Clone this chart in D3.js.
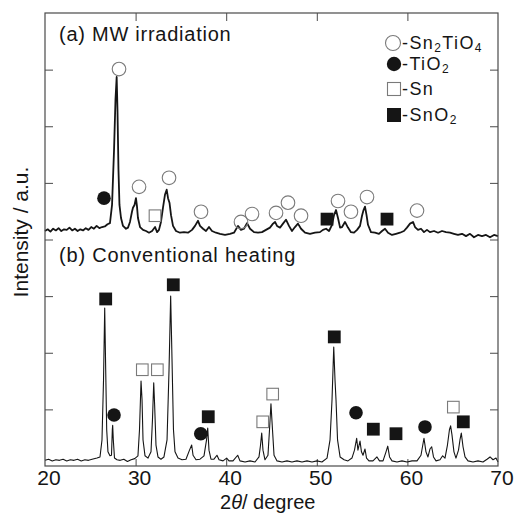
<!DOCTYPE html>
<html>
<head>
<meta charset="utf-8">
<script src="https://cdn.jsdelivr.net/npm/d3@7"></script>
<style>
  html, body { margin: 0; padding: 0; background: #fff; }
  svg { display: block; font-family: "Liberation Sans", Arial, Helvetica, sans-serif; }
</style>
</head>
<body>
<svg id="chart" width="514" height="514"></svg>
<script>
// XRD patterns: [2θ (deg), intensity (a.u., stacked)]
const patternMW = [
  [20.0,4.15],[20.3,4.18],[20.6,4.14],[20.9,4.19],[21.2,4.16],[21.5,4.20],[21.8,4.15],[22.1,4.18],
  [22.4,4.17],[22.7,4.21],[23.0,4.16],[23.3,4.19],[23.6,4.15],[23.9,4.18],[24.2,4.16],[24.5,4.20],
  [24.8,4.17],[25.1,4.22],[25.4,4.19],[25.7,4.24],[26.0,4.20],[26.3,4.22],[26.6,4.23],[26.9,4.27],
  [27.17,4.29],[27.40,4.61],[27.62,5.58],[27.78,6.47],[27.91,6.87],[28.00,6.29],[28.11,5.23],
  [28.22,4.61],[28.39,4.38],[28.61,4.24],[28.94,4.19],[29.16,4.21],[29.38,4.31],[29.60,4.49],
  [29.71,4.56],[29.88,4.61],[30.04,4.73],[30.15,4.59],[30.26,4.38],[30.49,4.22],[30.82,4.17],
  [31.15,4.15],[31.48,4.12],[31.82,4.15],[32.15,4.22],[32.37,4.13],[32.58,4.17],[32.80,4.31],
  [33.02,4.56],[33.24,4.79],[33.43,4.88],[33.58,4.73],[33.74,4.65],[33.91,4.43],[34.13,4.24],
  [34.46,4.15],[34.90,4.12],[35.34,4.13],[35.78,4.12],[36.23,4.17],[36.56,4.24],[36.89,4.33],
  [37.11,4.24],[37.44,4.19],[37.77,4.15],[38.10,4.22],[38.43,4.15],[38.87,4.12],[39.32,4.10],
  [39.87,4.08],[40.42,4.10],[40.86,4.12],[41.30,4.24],[41.63,4.17],[41.96,4.19],[42.30,4.29],
  [42.63,4.19],[43.07,4.13],[43.51,4.12],[43.95,4.13],[44.39,4.17],[44.83,4.21],[45.17,4.28],
  [45.39,4.31],[45.61,4.24],[45.94,4.21],[46.27,4.28],[46.60,4.35],[46.93,4.24],[47.26,4.15],
  [47.59,4.22],[47.92,4.28],[48.26,4.19],[48.70,4.12],[49.25,4.10],[49.80,4.12],[50.35,4.13],
  [50.68,4.17],[51.02,4.19],[51.35,4.15],[51.68,4.26],[51.90,4.43],[52.12,4.52],[52.34,4.38],
  [52.57,4.21],[52.79,4.22],[53.11,4.31],[53.44,4.21],[53.77,4.13],[54.11,4.12],[54.44,4.17],
  [54.77,4.24],[54.99,4.42],[55.16,4.52],[55.32,4.58],[55.49,4.43],[55.65,4.26],[55.98,4.13],
  [56.42,4.12],[56.86,4.10],[57.20,4.15],[57.53,4.19],[57.86,4.12],[58.30,4.08],[58.74,4.10],
  [59.18,4.12],[59.62,4.15],[59.95,4.21],[60.29,4.28],[60.62,4.31],[60.84,4.22],[61.17,4.17],
  [61.50,4.19],[61.83,4.13],[62.16,4.17],[62.49,4.13],[62.94,4.15],[63.38,4.12],[63.82,4.15],
  [64.26,4.13],[64.70,4.12],[65.14,4.10],[65.58,4.08],[66.03,4.10],[66.47,4.06],[66.91,4.10],
  [67.35,4.04],[67.79,4.08],[68.23,4.06],[68.68,4.08],[69.12,4.04],[69.56,4.08],[70.0,4.06]
];

const patternConv = [
  [20.0,0.10],[20.4,0.12],[20.8,0.09],[21.2,0.11],[21.6,0.10],[22.0,0.12],[22.4,0.09],[22.8,0.11],
  [23.2,0.10],[23.6,0.12],[24.0,0.09],[24.4,0.11],[24.8,0.10],[25.2,0.12],[25.74,0.14],
  [26.07,0.16],[26.29,0.46],[26.46,1.52],[26.59,2.79],[26.70,1.70],[26.81,0.64],[26.95,0.25],
  [27.17,0.18],[27.34,0.19],[27.43,0.64],[27.47,0.72],[27.54,0.46],[27.67,0.14],[27.95,0.11],
  [28.3,0.10],[28.7,0.12],[29.1,0.08],[29.5,0.11],[29.9,0.13],[30.26,0.18],[30.43,0.64],
  [30.60,1.50],[30.71,1.17],[30.82,0.46],[31.04,0.18],[31.37,0.14],[31.70,0.25],[31.86,0.81],
  [32.00,1.47],[32.10,1.08],[32.25,0.37],[32.47,0.16],[32.80,0.12],[33.13,0.16],[33.47,0.46],
  [33.69,1.70],[33.87,3.00],[34.02,1.87],[34.18,0.64],[34.35,0.25],[34.68,0.14],[35.12,0.11],
  [35.56,0.12],[35.95,0.28],[36.19,0.37],[36.34,0.19],[36.67,0.11],[37.11,0.12],[37.55,0.18],
  [37.83,0.46],[37.96,0.67],[38.10,0.28],[38.32,0.12],[38.65,0.12],[38.98,0.19],[39.21,0.11],
  [39.65,0.09],[40.05,0.14],[40.31,0.09],[40.75,0.09],[41.27,0.19],[41.52,0.09],[42.08,0.07],
  [42.63,0.09],[43.18,0.07],[43.62,0.16],[43.79,0.37],[43.92,0.58],[44.06,0.28],[44.28,0.11],
  [44.61,0.19],[44.78,0.64],[44.94,1.10],[45.11,0.64],[45.28,0.19],[45.61,0.09],[46.16,0.07],
  [46.71,0.09],[47.26,0.07],[47.81,0.09],[48.37,0.07],[48.92,0.09],[49.47,0.07],[50.02,0.09],
  [50.57,0.07],[51.13,0.14],[51.46,0.46],[51.68,1.17],[51.87,2.10],[52.01,1.52],[52.12,1.17],
  [52.29,0.46],[52.57,0.16],[53.01,0.11],[53.44,0.09],[53.88,0.14],[54.16,0.28],[54.40,0.49],
  [54.54,0.28],[54.77,0.44],[54.93,0.25],[55.10,0.19],[55.32,0.30],[55.49,0.14],[55.76,0.09],
  [56.20,0.09],[56.64,0.16],[56.92,0.09],[57.31,0.09],[57.64,0.25],[57.83,0.35],[58.03,0.16],
  [58.30,0.09],[58.85,0.07],[59.40,0.09],[59.96,0.07],[60.51,0.09],[61.06,0.09],[61.50,0.19],
  [61.83,0.49],[62.05,0.25],[62.27,0.16],[62.49,0.30],[62.68,0.34],[62.88,0.16],[63.16,0.09],
  [63.60,0.11],[63.89,0.18],[64.15,0.14],[64.42,0.37],[64.64,0.64],[64.77,0.71],[64.92,0.55],
  [65.14,0.25],[65.36,0.14],[65.64,0.28],[65.80,0.46],[65.95,0.58],[66.14,0.34],[66.36,0.16],
  [66.69,0.09],[67.24,0.07],[67.79,0.09],[68.34,0.07],[68.79,0.12],[69.12,0.16],[69.45,0.11],
  [69.78,0.14],[70.0,0.07]
];

// Phase markers above the reflections: [2θ, height]
const sn2tio4MW = [
  [28.17,7.01],[30.38,4.93],[33.69,5.09],[37.22,4.49],[41.63,4.31],[42.85,4.45],[45.50,4.47],
  [46.82,4.65],[48.26,4.42],[52.34,4.68],[53.77,4.49],[55.54,4.75],[61.06,4.51]
];
const tio2MW = [[26.51,4.73]];
const snMW = [[32.14,4.42]];
const sno2MW = [[51.13,4.36],[57.75,4.36]];

const sno2Conv = [[26.70,2.95],[34.16,3.20],[38.02,0.87],[51.93,2.28],[56.24,0.65],[58.74,0.57],[66.17,0.78]];
const tio2Conv = [[27.62,0.90],[37.19,0.57],[54.33,0.94],[61.94,0.69]];
const snConv = [[30.74,1.70],[32.40,1.70],[44.03,0.78],[45.13,1.27],[65.07,1.04]];

const xTickLabels = [20, 30, 40, 50, 60, 70];
const xInnerTicks = [30, 40, 50, 60];
const yInnerTicks = [1, 2, 3, 4, 5, 6, 7];

const legendItems = [
  { shape: "openCircle",  parts: [["-Sn", false], ["2", true], ["TiO", false], ["4", true]] },
  { shape: "filledCircle", parts: [["-TiO", false], ["2", true]] },
  { shape: "openSquare",  parts: [["-Sn", false]] },
  { shape: "filledSquare", parts: [["-SnO", false], ["2", true]] }
];

const svg = d3.select("#chart");
const L = 45, R = 498, T = 13, B = 466;
const x = d3.scaleLinear().domain([20, 70]).range([L, R]);
const y = d3.scaleLinear().domain([0, 8]).range([B, T]);

const frameColor = "#4a4a4a";
const ink = "#151515";
const openStroke = "#7a7a7a";

// Inward ticks on all four sides
function styleAxis(g) {
  g.select(".domain").remove();
  g.selectAll(".tick line").attr("stroke", frameColor).attr("stroke-width", 1);
  g.selectAll(".tick text").remove();
}
svg.append("g").attr("transform", `translate(0,${B})`)
  .call(d3.axisBottom(x).tickValues(xInnerTicks).tickSize(-7)).call(styleAxis);
svg.append("g").attr("transform", `translate(0,${T})`)
  .call(d3.axisTop(x).tickValues(xInnerTicks).tickSize(-8)).call(styleAxis);
svg.append("g").attr("transform", `translate(${L},0)`)
  .call(d3.axisLeft(y).tickValues(yInnerTicks).tickSize(-8)).call(styleAxis);
svg.append("g").attr("transform", `translate(${R},0)`)
  .call(d3.axisRight(y).tickValues(yInnerTicks).tickSize(-8)).call(styleAxis);

// Diffraction traces
const line = d3.line().x(d => x(d[0])).y(d => y(d[1]));
svg.append("path").datum(patternMW).attr("d", line)
  .attr("fill", "none").attr("stroke", ink).attr("stroke-width", 1.8).attr("stroke-linejoin", "round");
svg.append("path").datum(patternConv).attr("d", line)
  .attr("fill", "none").attr("stroke", ink).attr("stroke-width", 1.1).attr("stroke-linejoin", "round");

// Frame
svg.append("rect").attr("x", L).attr("y", T).attr("width", R - L).attr("height", B - T)
  .attr("fill", "none").attr("stroke", frameColor).attr("stroke-width", 1.2);

// Phase markers
function drawMarkers(data, shape) {
  const g = svg.append("g");
  if (shape === "openCircle" || shape === "filledCircle") {
    g.selectAll("circle").data(data).join("circle")
      .attr("cx", d => x(d[0])).attr("cy", d => y(d[1]))
      .attr("r", 6.8)
      .attr("fill", shape === "openCircle" ? "none" : ink)
      .attr("stroke", shape === "openCircle" ? openStroke : ink)
      .attr("stroke-width", shape === "openCircle" ? 1.1 : 0);
  } else {
    const s = shape === "openSquare" ? 11.6 : 12.8;
    g.selectAll("rect").data(data).join("rect")
      .attr("x", d => x(d[0]) - s / 2).attr("y", d => y(d[1]) - s / 2)
      .attr("width", s).attr("height", s)
      .attr("fill", shape === "openSquare" ? "#fff" : ink)
      .attr("stroke", shape === "openSquare" ? openStroke : "none")
      .attr("stroke-width", 1.1);
  }
}
drawMarkers(sn2tio4MW, "openCircle");
drawMarkers(tio2MW, "filledCircle");
drawMarkers(snMW, "openSquare");
drawMarkers(sno2MW, "filledSquare");
drawMarkers(sno2Conv, "filledSquare");
drawMarkers(tio2Conv, "filledCircle");
drawMarkers(snConv, "openSquare");

// Panel titles
svg.append("text").attr("x", 59).attr("y", 41)
  .attr("font-size", 20).attr("letter-spacing", 0.75).attr("fill", ink)
  .text("(a) MW irradiation");
svg.append("text").attr("x", 59).attr("y", 262)
  .attr("font-size", 20).attr("letter-spacing", 0.8).attr("fill", ink)
  .text("(b) Conventional heating");

// Legend
const legend = svg.append("g");
const legendRows = [43, 64, 89, 115];
legendItems.forEach((item, i) => {
  const cy = legendRows[i];
  const mx = 394;
  if (item.shape === "openCircle") {
    legend.append("circle").attr("cx", mx - 1).attr("cy", cy).attr("r", 7.5)
      .attr("fill", "none").attr("stroke", openStroke).attr("stroke-width", 1.1);
  } else if (item.shape === "filledCircle") {
    legend.append("circle").attr("cx", mx).attr("cy", cy).attr("r", 7.2).attr("fill", ink);
  } else if (item.shape === "openSquare") {
    legend.append("rect").attr("x", mx - 6.5).attr("y", cy - 6.5).attr("width", 13).attr("height", 13)
      .attr("fill", "none").attr("stroke", openStroke).attr("stroke-width", 1.1);
  } else {
    legend.append("rect").attr("x", mx - 7).attr("y", cy - 7).attr("width", 14).attr("height", 14)
      .attr("fill", ink);
  }
  const t = legend.append("text").attr("x", 402).attr("y", cy + 6)
    .attr("font-size", 18).attr("letter-spacing", 1.4).attr("fill", ink);
  item.parts.forEach(([str, sub]) => {
    const sp = t.append("tspan").text(str);
    if (sub) sp.attr("font-size", 12).attr("dy", 3);
    else if (sp.node().previousSibling) sp.attr("dy", -3);
  });
});

// Axis labels
svg.append("g").selectAll("text").data(xTickLabels).join("text")
  .attr("x", d => x(d) + 4).attr("y", 485)
  .attr("text-anchor", "middle").attr("font-size", 21).attr("fill", ink)
  .text(d => d);

const xt = svg.append("text").attr("x", 220).attr("y", 509)
  .attr("font-size", 20).attr("fill", ink);
xt.append("tspan").text("2");
xt.append("tspan").attr("font-style", "italic").text("θ");
xt.append("tspan").text("/ degree");

svg.append("text").attr("transform", "translate(28,232) rotate(-90)")
  .attr("text-anchor", "middle").attr("font-size", 21).attr("fill", ink)
  .text("Intensity / a.u.");
</script>
</body>
</html>
